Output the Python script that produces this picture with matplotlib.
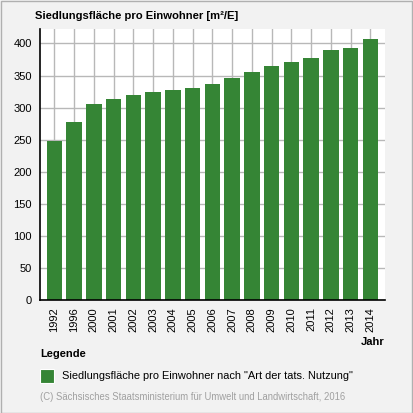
import matplotlib.pyplot as plt
from matplotlib.patches import Rectangle

years = ["1992", "1996", "2000", "2001", "2002", "2003", "2004", "2005", "2006",
         "2007", "2008", "2009", "2010", "2011", "2012", "2013", "2014"]
values = [248, 277, 305, 313, 320, 324, 327, 330, 337,
          346, 355, 365, 371, 377, 390, 393, 407]
y_ticks = [0, 50, 100, 150, 200, 250, 300, 350, 400]

bar_color = "#358535"
plt.rcParams['font.family'] = ['Liberation Sans', 'DejaVu Sans']

fig = plt.figure(figsize=(4.13, 4.13), dpi=100, facecolor="#f2f2f2")
ax = fig.add_axes([40 / 413, 113 / 413, 345 / 413, 271.3 / 413])
ax.set_facecolor("white")

x = range(len(years))
ax.bar(x, values, width=0.78, color=bar_color, zorder=3)

ax.set_xlim(-0.73, len(years) - 1 + 0.74)
ax.set_ylim(0, 423)
ax.set_yticks(y_ticks)
ax.set_xticks(list(x))
ax.set_xticklabels(years, rotation=90, fontsize=8)
ax.tick_params(axis="y", length=0, pad=6, labelsize=8)
ax.tick_params(axis="x", length=0, pad=5)
ax.grid(True, color="#b8b8b8", linewidth=1.0, zorder=0)

for side in ["top", "right"]:
    ax.spines[side].set_visible(False)
for side in ["left", "bottom"]:
    ax.spines[side].set_color("black")
    ax.spines[side].set_linewidth(1.2)
    ax.spines[side].set_zorder(4)

fig.text(35 / 413, 1 - 16 / 413, "Siedlungsfläche pro Einwohner [m²/E]",
         fontsize=8.1, fontweight="bold", va="center", ha="left")
fig.text(385 / 413, 1 - 342 / 413, "Jahr", fontsize=8, fontweight="bold",
         va="center", ha="right")
fig.text(40 / 413, 1 - 354 / 413, "Legende", fontsize=8, fontweight="bold",
         va="center", ha="left")
fig.patches.append(Rectangle((40 / 413, 1 - 383 / 413), 14 / 413, 14 / 413,
                             transform=fig.transFigure, facecolor=bar_color,
                             edgecolor="white", linewidth=0.8))
fig.text(62 / 413, 1 - 376 / 413,
         'Siedlungsfläche pro Einwohner nach "Art der tats. Nutzung"',
         fontsize=7.9, va="center", ha="left")
fig.text(40 / 413, 1 - 397 / 413,
         "(C) Sächsisches Staatsministerium für Umwelt und Landwirtschaft, 2016",
         fontsize=6.85, color="#a0a0a0", va="center", ha="left")

fig.patches.append(Rectangle((0.5 / 413, 0.5 / 413), 411.5 / 413, 411.5 / 413,
                             transform=fig.transFigure, facecolor="none",
                             edgecolor="#b0b0b0", linewidth=1.0))

fig.savefig("out.png", dpi=100, facecolor=fig.get_facecolor())
